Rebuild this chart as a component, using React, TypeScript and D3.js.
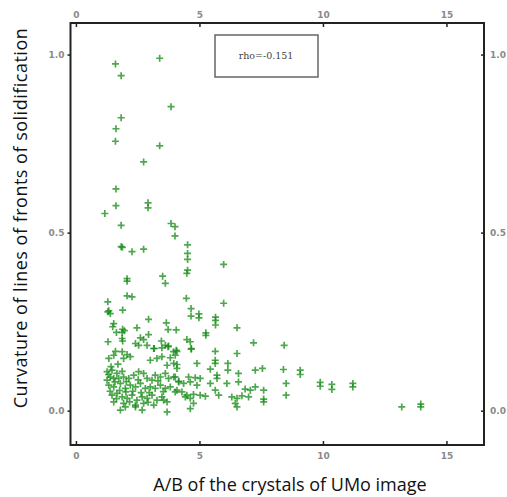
import React from "react";
import * as d3 from "d3";

// [A/B, curvature]
const upperPoints: [number, number][] = [
  [1.58, 0.975], [3.37, 0.991], [1.81, 0.942], [3.83, 0.855], [1.81, 0.824], [1.6, 0.793],
  [1.58, 0.758], [3.37, 0.745], [2.72, 0.7], [1.6, 0.624], [1.6, 0.577], [2.9, 0.585],
  [2.9, 0.571], [1.15, 0.555], [1.81, 0.522], [3.83, 0.527], [3.99, 0.518], [3.99, 0.492],
  [4.5, 0.467], [1.81, 0.462], [1.86, 0.46], [2.25, 0.448], [2.72, 0.455], [4.5, 0.443],
  [4.5, 0.426], [5.96, 0.412], [4.5, 0.396], [4.47, 0.387], [2.05, 0.372], [3.49, 0.379],
];

const midPoints: [number, number][] = [
  [2.05, 0.365], [3.6, 0.359], [2.05, 0.324], [2.25, 0.321], [4.45, 0.317], [1.27, 0.307],
  [5.96, 0.303], [1.31, 0.282], [1.37, 0.274], [1.27, 0.279], [1.87, 0.284], [4.64, 0.288],
  [4.64, 0.267], [4.96, 0.273], [4.96, 0.262], [5.63, 0.264], [5.63, 0.255], [5.63, 0.242],
  [2.92, 0.258], [3.64, 0.248], [1.51, 0.246], [1.47, 0.237], [1.87, 0.23], [1.94, 0.226],
  [1.85, 0.221], [2.45, 0.234], [3.71, 0.229], [4.04, 0.228], [6.5, 0.234], [1.62, 0.221],
  [2.92, 0.215], [5.24, 0.22], [5.24, 0.213], [1.85, 0.204], [1.87, 0.197], [2.59, 0.206],
  [2.72, 0.201], [4.47, 0.201], [4.61, 0.195], [1.28, 0.195], [3.44, 0.197], [2.39, 0.19],
  [2.52, 0.185], [7.17, 0.192], [2.86, 0.185], [3.6, 0.185], [3.71, 0.181], [4.65, 0.174],
  [3.15, 0.176], [4.04, 0.171], [3.93, 0.167],
];

const clusterLeft: [number, number][] = [
  [1.58, 0.168], [1.85, 0.167], [2.05, 0.159], [1.51, 0.157], [1.31, 0.148], [1.91, 0.148],
  [2.18, 0.153], [3.13, 0.176], [3.46, 0.178], [3.73, 0.183], [2.99, 0.143], [3.26, 0.148],
  [3.46, 0.153], [3.8, 0.15], [4.0, 0.157], [3.67, 0.129], [3.94, 0.134], [4.07, 0.12],
  [1.24, 0.111], [1.44, 0.115], [1.64, 0.106], [1.85, 0.112], [1.37, 0.096], [1.51, 0.092],
  [1.24, 0.087], [1.71, 0.092], [1.91, 0.096], [2.12, 0.092], [2.32, 0.101], [2.52, 0.111],
  [2.72, 0.106], [2.86, 0.092], [3.06, 0.087], [3.19, 0.101], [3.4, 0.096], [3.6, 0.106],
  [3.73, 0.092], [3.94, 0.096], [4.14, 0.082], [1.31, 0.073], [1.51, 0.068], [1.78, 0.078],
  [1.98, 0.064], [2.18, 0.073], [2.39, 0.068], [2.59, 0.078], [2.79, 0.064], [2.99, 0.068],
  [3.19, 0.064], [3.4, 0.073], [3.6, 0.064], [3.8, 0.068], [4.0, 0.054], [1.44, 0.045],
  [1.64, 0.05], [1.85, 0.04], [2.05, 0.036], [2.25, 0.045], [2.45, 0.031], [2.66, 0.04],
  [2.86, 0.036], [3.06, 0.045], [3.26, 0.031], [3.46, 0.04], [3.67, 0.026], [1.51, 0.026],
  [1.91, 0.022], [2.39, 0.017], [2.72, 0.022], [3.13, 0.017], [3.53, 0.031], [1.78, 0.003],
  [2.39, 0.012], [2.66, 0.003], [3.67, -0.002],
  [1.4, 0.125], [1.68, 0.132], [1.3, 0.103], [1.56, 0.082], [1.75, 0.058], [1.36, 0.056],
  [1.62, 0.035], [2.0, 0.054], [2.02, 0.083], [2.28, 0.056], [2.5, 0.088], [2.62, 0.052],
  [2.95, 0.052], [3.3, 0.085], [3.52, 0.055], [1.98, 0.012], [2.15, 0.026], [2.9, 0.025],
];

const clusterRight: [number, number][] = [
  [4.07, 0.168], [4.65, 0.176], [5.62, 0.168], [6.5, 0.162], [4.07, 0.131], [4.88, 0.134],
  [5.62, 0.143], [5.62, 0.134], [6.13, 0.134], [6.13, 0.115], [5.42, 0.118], [7.24, 0.115],
  [7.53, 0.12], [5.69, 0.101], [5.69, 0.092], [6.56, 0.106], [4.54, 0.096], [4.81, 0.094],
  [5.01, 0.092], [4.0, 0.096], [4.14, 0.084], [4.34, 0.078], [4.61, 0.082], [4.88, 0.073],
  [6.09, 0.078], [6.56, 0.082], [5.42, 0.078], [7.24, 0.068], [6.83, 0.062], [7.04, 0.059],
  [7.58, 0.059], [5.62, 0.059], [5.76, 0.045], [4.07, 0.059], [4.27, 0.054], [4.47, 0.045],
  [4.74, 0.047], [5.01, 0.045], [5.22, 0.042], [4.41, 0.04], [4.61, 0.036], [6.29, 0.04],
  [6.5, 0.036], [6.7, 0.043], [6.97, 0.04], [7.58, 0.034], [7.58, 0.026], [6.43, 0.022],
  [6.5, 0.012], [4.74, 0.022], [4.61, 0.007],
];

const tailPoints: [number, number][] = [
  [8.41, 0.185], [8.38, 0.117], [9.06, 0.115], [9.06, 0.103], [8.49, 0.078], [9.87, 0.081],
  [9.87, 0.07], [10.34, 0.075], [10.34, 0.061], [11.19, 0.078], [11.19, 0.068], [8.49, 0.045],
  [13.17, 0.012], [13.94, 0.02], [13.94, 0.012],
];

const allPoints = [...upperPoints, ...midPoints, ...clusterLeft, ...clusterRight, ...tailPoints];

const xTicks = [0, 5, 10, 15];
const yTicks = [0, 0.5, 1.0];
const xLabel = "A/B of the crystals of UMo image";
const yLabel = "Curvature of lines of fronts of solidification";
const legendText = "rho=-0.151";

export default function App() {
  const left = 70.5, right = 484, top = 23, bottom = 445;
  const x = d3.scaleLinear().domain([-0.24, 16.5]).range([left, right]);
  const y = d3.scaleLinear().domain([-0.095, 1.09]).range([bottom, top]);
  const fmtY = d3.format(".1f");
  const tickFont = { fontFamily: "DejaVu Sans", fontSize: 9, fill: "#8a8a8a", fontWeight: 700 } as const;
  const cross = "M-3.5,0H3.5M0,-3.5V3.5";

  return (
    <svg
      width={507}
      height={497}
      style={{ position: "absolute", left: 0, top: 0, background: "#fff" }}
    >
      <rect x={0} y={0} width={507} height={497} fill="#fff" />
      {/* points */}
      <g stroke="#138a13" strokeWidth={1.7} strokeOpacity={0.75} fill="none">
        {allPoints.map((d, i) => (
          <path key={i} d={cross} transform={`translate(${x(d[0])},${y(d[1])})`} />
        ))}
      </g>
      {/* frame */}
      <rect x={left} y={top} width={right - left} height={bottom - top} fill="none" stroke="#222" strokeWidth={2} />
      {/* x ticks */}
      {xTicks.map((t) => (
        <g key={"x" + t}>
          <line x1={x(t)} x2={x(t)} y1={top} y2={top + 4} stroke="#222" strokeWidth={1.5} />
          <line x1={x(t)} x2={x(t)} y1={bottom} y2={bottom - 4} stroke="#222" strokeWidth={1.5} />
          <text x={x(t)} y={top - 8} textAnchor="middle" dominantBaseline="middle" {...tickFont}>{t}</text>
          <text x={x(t)} y={bottom + 11} textAnchor="middle" dominantBaseline="middle" {...tickFont}>{t}</text>
        </g>
      ))}
      {/* y ticks */}
      {yTicks.map((t) => (
        <g key={"y" + t}>
          <line x1={left} x2={left - 3} y1={y(t)} y2={y(t)} stroke="#222" strokeWidth={1.5} />
          <line x1={right} x2={right - 3} y1={y(t)} y2={y(t)} stroke="#222" strokeWidth={1.5} />
          <text x={left - 6} y={y(t)} textAnchor="end" dominantBaseline="middle" {...tickFont}>{fmtY(t)}</text>
          <text x={right + 6} y={y(t)} textAnchor="start" dominantBaseline="middle" {...tickFont}>{fmtY(t)}</text>
        </g>
      ))}
      {/* legend box */}
      <rect x={215} y={35} width={103} height={42} fill="#fff" stroke="#666" strokeWidth={1.5} />
      <text x={266} y={56} textAnchor="middle" dominantBaseline="middle" fontFamily="DejaVu Serif" fontSize={9.5} fill="#444">
        {legendText}
      </text>
      {/* axis labels */}
      <text x={290} y={486} textAnchor="middle" dominantBaseline="middle" fontFamily="Open Sans" fontSize={18} fill="#111">
        {xLabel}
      </text>
      <text
        transform={`translate(22,218) rotate(-90)`}
        textAnchor="middle"
        dominantBaseline="middle"
        fontFamily="Open Sans"
        fontSize={18}
        letterSpacing={0.5}
        fill="#111"
      >
        {yLabel}
      </text>
    </svg>
  );
}
